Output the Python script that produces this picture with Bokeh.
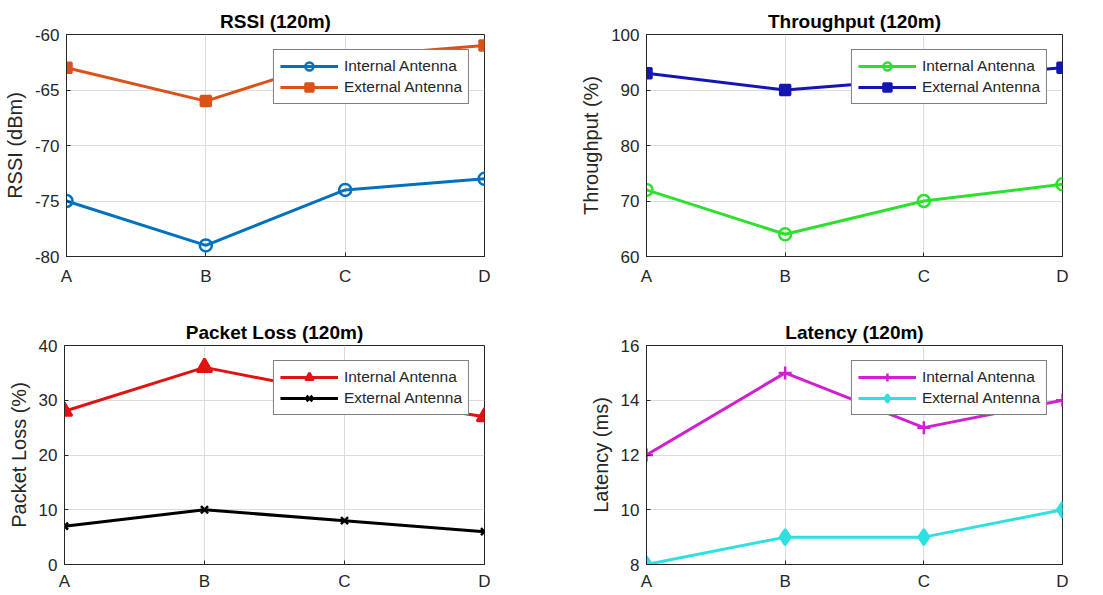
from bokeh.plotting import figure
from bokeh.layouts import column, row
from bokeh.models import Range1d, FixedTicker
from bokeh.embed import file_html
from bokeh.resources import INLINE

# ---- data ----
categories = ["A", "B", "C", "D"]
series_labels = ["Internal Antenna", "External Antenna"]

rssi_internal = [-75, -79, -74, -73]
rssi_external = [-63, -66, -62, -61]
rssi_ticks = [-80, -75, -70, -65, -60]

thr_internal = [72, 64, 70, 73]
thr_external = [93, 90, 92, 94]
thr_ticks = [60, 70, 80, 90, 100]

loss_internal = [28, 36, 31, 27]
loss_external = [7, 10, 8, 6]
loss_ticks = [0, 10, 20, 30, 40]

lat_internal = [12, 15, 13, 14]
lat_external = [8, 9, 9, 10]
lat_ticks = [8, 10, 12, 14, 16]

FONT = "Liberation Sans"
DARK = "#262626"


def make_panel(title, ylabel, ticks, internal, external, st_int, st_ext,
               width, height, bl, br, bt, bb, xstand):
    xs = list(range(len(categories)))
    p = figure(width=width, height=height, output_backend="svg",
               toolbar_location=None, title=title,
               x_range=Range1d(xs[0], xs[-1]),
               y_range=Range1d(ticks[0], ticks[-1]),
               min_border_left=bl, min_border_right=br,
               min_border_top=bt, min_border_bottom=bb)
    p.title.align = "center"
    p.title.text_font = FONT
    p.title.text_font_size = "19px"
    p.title.text_font_style = "bold"
    p.title.text_color = "#000000"
    p.title.standoff = 6

    p.xaxis.ticker = FixedTicker(ticks=xs)
    p.xaxis.major_label_overrides = {i: c for i, c in enumerate(categories)}
    p.yaxis.ticker = FixedTicker(ticks=ticks)
    p.yaxis.major_label_overrides = {t: str(t) for t in ticks}
    p.yaxis.axis_label = ylabel
    for ax in (p.xaxis[0], p.yaxis[0]):
        ax.major_label_text_font = FONT
        ax.major_label_text_font_size = "17px"
        ax.major_label_text_color = DARK
        ax.axis_line_color = DARK
        ax.major_tick_in = 4
        ax.major_tick_out = 0
        ax.minor_tick_line_color = None
        ax.major_tick_line_color = DARK
    p.xaxis.major_label_standoff = xstand
    p.yaxis.major_label_standoff = 7
    p.yaxis.axis_label_text_font = FONT
    p.yaxis.axis_label_text_font_size = "20px"
    p.yaxis.axis_label_text_font_style = "normal"
    p.yaxis.axis_label_text_color = DARK
    p.yaxis.axis_label_standoff = 6

    p.grid.grid_line_color = "#dcdcdc"
    p.grid.grid_line_width = 1
    p.outline_line_color = DARK
    p.outline_line_width = 1
    p.background_fill_color = "white"
    p.border_fill_color = "white"

    for vals, st, lab in ((internal, st_int, series_labels[0]),
                          (external, st_ext, series_labels[1])):
        p.line(xs, vals, line_color=st["color"], line_width=3, legend_label=lab)
        p.scatter(xs, vals, marker=st["marker"], size=st["size"],
                  line_color=st["color"], line_width=2.5,
                  fill_color=st["color"] if st["fill"] else None,
                  legend_label=lab)

    lg = p.legend[0]
    lg.location = "top_right"
    lg.margin = 15
    lg.label_text_font = FONT
    lg.label_text_font_size = "15.5px"
    lg.label_text_color = DARK
    lg.glyph_width = 58
    lg.glyph_height = 20
    lg.label_standoff = 6
    lg.spacing = 1
    lg.padding = 6
    lg.border_line_color = "#000000"
    lg.border_line_width = 1
    lg.background_fill_color = "white"
    lg.background_fill_alpha = 1.0
    return p


p1 = make_panel("RSSI (120m)", "RSSI (dBm)", rssi_ticks, rssi_internal, rssi_external,
                dict(color="#0072BD", marker="circle", size=12, fill=False),
                dict(color="#D95319", marker="square", size=10, fill=True),
                548, 300, 64, 64, 34, 44, 10)
p2 = make_panel("Throughput (120m)", "Throughput (%)", thr_ticks, thr_internal, thr_external,
                dict(color="#2EE02E", marker="circle", size=12, fill=False),
                dict(color="#1515B4", marker="square", size=10, fill=True),
                550, 300, 98, 36, 34, 44, 10)
p3 = make_panel("Packet Loss (120m)", "Packet Loss (%)", loss_ticks, loss_internal, loss_external,
                dict(color="#E01212", marker="triangle", size=15, fill=True),
                dict(color="#000000", marker="x", size=10, fill=False),
                548, 293, 64, 64, 45, 27, 7)
p4 = make_panel("Latency (120m)", "Latency (ms)", lat_ticks, lat_internal, lat_external,
                dict(color="#D020D0", marker="cross", size=13, fill=False),
                dict(color="#30E0E0", marker="diamond", size=16, fill=True),
                550, 293, 98, 36, 45, 27, 7)

layout = column(row(p1, p2), row(p3, p4))
open("out.html", "w").write(file_html(layout, INLINE))
